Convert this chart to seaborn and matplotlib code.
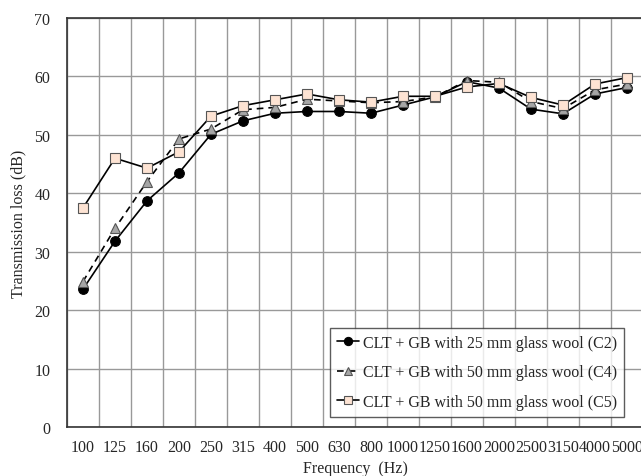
import pandas as pd
import matplotlib.pyplot as plt
import seaborn as sns

freqs = ['100', '125', '160', '200', '250', '315', '400', '500', '630', '800',
         '1000', '1250', '1600', '2000', '2500', '3150', '4000', '5000']

c2 = [23.6, 31.8, 38.7, 43.5, 50.1, 52.4, 53.7, 54.0, 54.0, 53.7,
      55.1, 56.5, 59.1, 58.0, 54.4, 53.6, 57.0, 58.1]
c4 = [24.9, 34.0, 42.0, 49.3, 51.0, 54.3, 54.7, 56.1, 55.8, 55.5,
      55.7, 56.5, 59.3, 59.0, 55.7, 54.5, 57.7, 58.7]
c5 = [37.5, 46.0, 44.3, 47.1, 53.2, 55.0, 56.0, 57.0, 56.0, 55.6,
      56.6, 56.6, 58.2, 58.8, 56.4, 55.1, 58.7, 59.8]

labels = ['CLT + GB with 25 mm glass wool (C2)',
          'CLT + GB with 50 mm glass wool (C4)',
          'CLT + GB with 50 mm glass wool (C5)']

sns.set_style('white')
plt.rcParams['font.family'] = ['Liberation Serif', 'DejaVu Serif']

fig = plt.figure(figsize=(6.41, 4.77), dpi=100)
ax = fig.add_axes([67 / 641, 49 / 477, 576 / 641, 409 / 477])

df = pd.DataFrame({'freq': freqs, 'C2': c2, 'C4': c4, 'C5': c5})

sns.lineplot(data=df, x='freq', y='C2', ax=ax, color='black', lw=1.2,
             marker='o', markersize=7, markerfacecolor='black',
             markeredgecolor='black', label=labels[0], sort=False)
sns.lineplot(data=df, x='freq', y='C4', ax=ax, color='black', lw=1.2,
             linestyle=(0, (4, 3)), marker='^', markersize=7,
             markerfacecolor='#a6a6a6', markeredgecolor='#555555',
             markeredgewidth=0.8, label=labels[1], sort=False)
sns.lineplot(data=df, x='freq', y='C5', ax=ax, color='black', lw=1.2,
             marker='s', markersize=7.5, markerfacecolor='#fde3d3',
             markeredgecolor='#555555', markeredgewidth=0.8,
             label=labels[2], sort=False)

ax.set_xlim(-0.5, 17.5)
ax.set_ylim(0, 70)
ax.set_yticks(range(0, 71, 10))
ax.set_xticks(range(len(freqs)))
ax.set_xticklabels(freqs)
ax.set_xticks([i + 0.5 for i in range(-1, 18)], minor=True)
ax.grid(False)
ax.grid(True, which='minor', axis='x', color='#999999', lw=1.0)
ax.grid(True, which='major', axis='y', color='#999999', lw=1.0)
ax.set_axisbelow(True)
ax.tick_params(axis='both', which='both', length=0, labelsize=11.5)
ax.tick_params(axis='y', pad=12)
ax.tick_params(axis='x', pad=9)

ax.spines['right'].set_color('#999999')
for s in ['left', 'bottom', 'top']:
    ax.spines[s].set_color('#333333')
    ax.spines[s].set_linewidth(1.2)

ax.set_xlabel('Frequency  (Hz)', fontsize=11.5, labelpad=3)
ax.set_ylabel('Transmission loss (dB)', fontsize=11.5, labelpad=6)

leg = ax.legend(loc='lower right', bbox_to_anchor=(0.967, 0.024), fontsize=11.5,
                frameon=True, fancybox=False, edgecolor='#333333',
                handlelength=1.4, handletextpad=0.2, borderpad=0.45,
                labelspacing=0.85, borderaxespad=0, markerscale=0.85)
leg.get_frame().set_linewidth(1.0)

fig.savefig('out.png', dpi=100)
